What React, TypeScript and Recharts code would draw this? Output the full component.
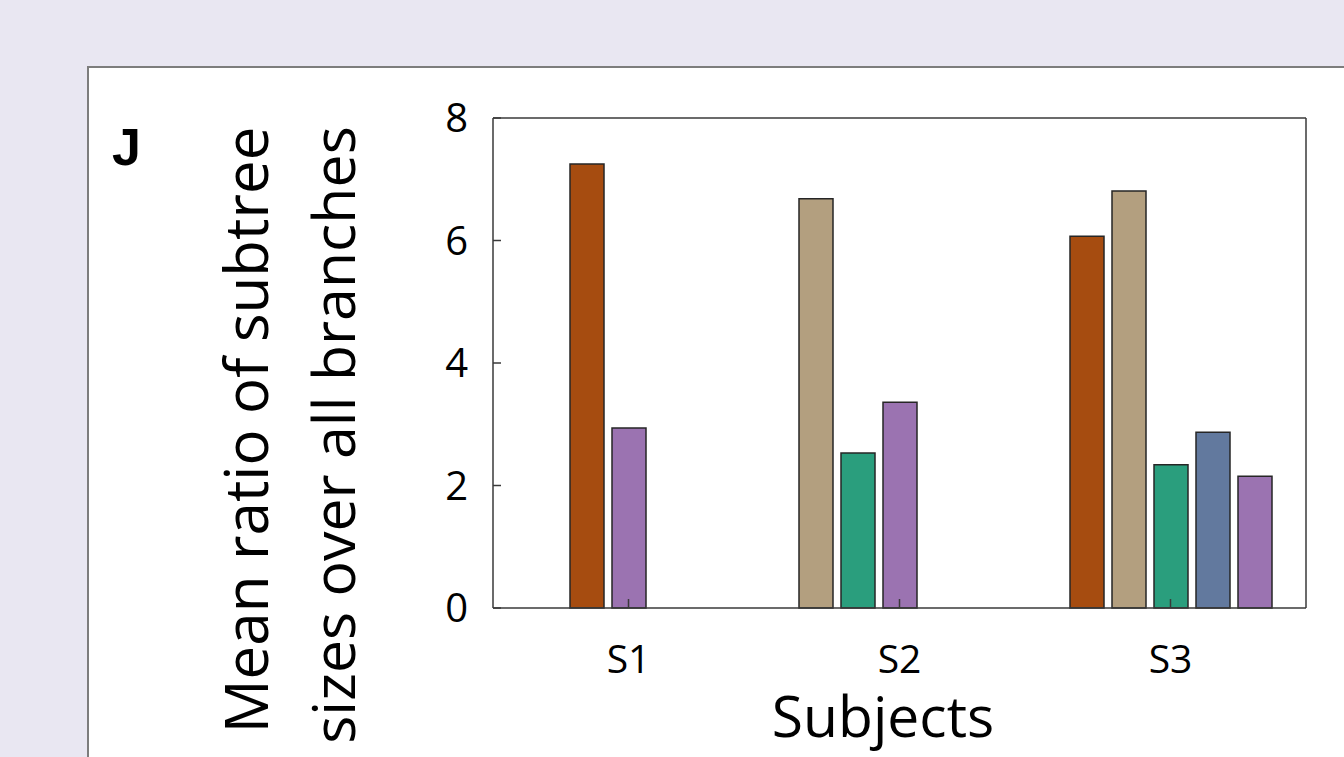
import { BarChart, Bar, Cell, XAxis, YAxis } from 'recharts';

const subjects = ['S1', 'S2', 'S3'];

// grouped-bar slots per subject (empty slot = no bar)
const slot1 = [null, 6.68, 6.07];
const slot2 = [7.25, 2.53, 6.81];
const slot3 = [2.94, 3.36, 2.34];
const slot4 = [null, null, 2.87];
const slot5 = [null, null, 2.15];

const slot1Group = ['', 'tan', 'orange'];
const slot2Group = ['orange', 'green', 'tan'];
const slot3Group = ['purple', 'purple', 'green'];
const slot4Group = ['', '', 'blue'];
const slot5Group = ['', '', 'purple'];

const yTicks = [0, 2, 4, 6, 8];

const palette: Record<string, string> = {
  orange: '#A64C10',
  tan: '#B39F7F',
  green: '#2A9E7D',
  blue: '#62799E',
  purple: '#9B73B1',
  '': 'none',
};

const slots = [
  { key: 'slot1', values: slot1, groups: slot1Group },
  { key: 'slot2', values: slot2, groups: slot2Group },
  { key: 'slot3', values: slot3, groups: slot3Group },
  { key: 'slot4', values: slot4, groups: slot4Group },
  { key: 'slot5', values: slot5, groups: slot5Group },
];

const data = subjects.map((subject, i) => {
  const row: Record<string, any> = { subject };
  slots.forEach((s) => (row[s.key] = s.values[i]));
  return row;
});

const FONT = '"Open Sans", sans-serif';
const AXIS = '#3a3a3a';

const yTitle = () => (
  <g fontFamily={FONT} fill="#000">
    <text x={112} y={165} fontSize={52} fontWeight="bold" fontFamily='"Liberation Sans", sans-serif'>
      J
    </text>
    <text transform="translate(268,430) rotate(-90)" textAnchor="middle" fontSize={60}>
      Mean ratio of subtree
    </text>
    <text transform="translate(355,435) rotate(-90)" textAnchor="middle" fontSize={59}>
      sizes over all branches
    </text>
  </g>
);

const xTitle = () => (
  <text x={883} y={737} textAnchor="middle" fontFamily={FONT} fontSize={57} fill="#000">
    Subjects
  </text>
);

export default function App() {
  return (
    <div style={{ position: 'absolute', left: 0, top: 0, width: 1344, height: 757, background: '#E9E7F2', overflow: 'hidden' }}>
      <div
        style={{
          position: 'absolute',
          left: 87,
          top: 66,
          right: 0,
          bottom: 0,
          background: '#fff',
          borderLeft: '2px solid #7d7d7d',
          borderTop: '2px solid #7d7d7d',
        }}
      />
      <div style={{ position: 'absolute', left: 0, top: 0 }}>
        <BarChart
          width={1344}
          height={757}
          data={data}
          margin={{ top: 117, right: 37, bottom: 49, left: 393 }}
          barGap={8}
        >
          <XAxis
            dataKey="subject"
            height={100}
            stroke={AXIS}
            strokeWidth={1.5}
            tickSize={-9}
            tickMargin={46}
            tick={{ fontFamily: FONT, fontSize: 39, fill: '#000' }}
            label={xTitle}
          />
          <XAxis
            xAxisId="top"
            dataKey="subject"
            orientation="top"
            height={1}
            stroke={AXIS}
            strokeWidth={1.5}
            tickSize={-9}
            tick={false}
          />
          <YAxis
            domain={[0, 8]}
            ticks={yTicks}
            width={100}
            stroke={AXIS}
            strokeWidth={1.5}
            tickSize={-8}
            tickMargin={33}
            tick={{ fontFamily: FONT, fontSize: 40, fill: '#000' }}
            label={yTitle}
          />
          <YAxis
            yAxisId="right"
            orientation="right"
            domain={[0, 8]}
            ticks={yTicks}
            width={1}
            stroke={AXIS}
            strokeWidth={1.5}
            tickSize={-8}
            tick={false}
          />
          {slots.map((s) => (
            <Bar
              key={s.key}
              dataKey={s.key}
              barSize={34}
              stroke="#262626"
              strokeWidth={1.5}
              isAnimationActive={false}
            >
              {s.groups.map((g, i) => (
                <Cell key={i} fill={palette[g]} />
              ))}
            </Bar>
          ))}
        </BarChart>
      </div>
    </div>
  );
}
